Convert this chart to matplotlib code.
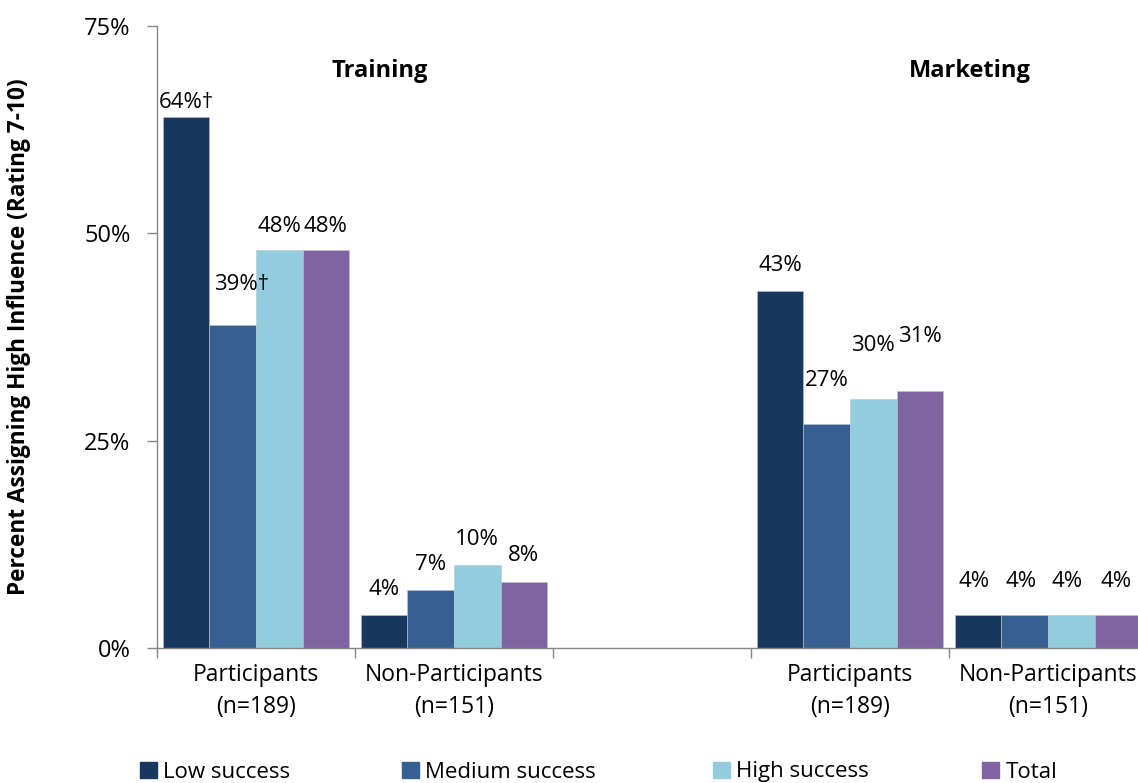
import matplotlib
matplotlib.use("Agg")
import matplotlib.pyplot as plt
from matplotlib.patches import Patch
import numpy as np

plt.rcParams['font.family'] = ['Open Sans', 'DejaVu Sans']

# ---- data -------------------------------------------------------------
categories = ["Participants\n(n=189)", "Non-Participants\n(n=151)", "",
              "Participants\n(n=189)", "Non-Participants\n(n=151)"]
series = ["Low success", "Medium success", "High success", "Total"]
low_success = [64, 4, np.nan, 43, 4]
medium_success = [39, 7, np.nan, 27, 4]
high_success = [48, 10, np.nan, 30, 4]
total = [48, 8, np.nan, 31, 4]
label_marks = [["†", "", "", "", ""],
               ["†", "", "", "", ""],
               ["", "", "", "", ""],
               ["", "", "", "", ""]]
section_titles = ["Training", "Marketing"]
y_ticks = [0, 25, 50, 75]

# ---- styling ----------------------------------------------------------
colors = ["#17375E", "#376092", "#93CDDD", "#8064A2"]
# vertical gap (px) between bar top and label centre, per series / category
label_lift = [[15, 25, 0, 26, 33],
              [40, 25, 0, 44, 33],
              [23, 26, 0, 54, 33],
              [23, 26, 0, 54, 33]]
label_shift = [[0, 0, 0, 0, -4],
               [9, 0, 0, 0, -4],
               [0, 0, 0, 0, -4],
               [0, 0, 0, 0, -2]]

W, H, DPI = 1138, 783, 100
fig = plt.figure(figsize=(W / DPI, H / DPI), dpi=DPI)
ax_left, ax_right, ax_bottom, ax_top = 157, 1147, 648, 26
ax = fig.add_axes([ax_left / W, 1 - ax_bottom / H,
                   (ax_right - ax_left) / W, (ax_bottom - ax_top) / H])

values = [low_success, medium_success, high_success, total]
x = np.arange(len(categories))
bar_w = 0.235
offsets = (np.arange(4) - 1.5) * bar_w
px_per_unit = (ax_bottom - ax_top) / 75.0

for si, (name, vals) in enumerate(zip(series, values)):
    ax.bar(x + offsets[si], vals, width=bar_w, color=colors[si],
           edgecolor="#B8C4D4", linewidth=0.4, label=name, zorder=2)
    for ci, v in enumerate(vals):
        if np.isnan(v):
            continue
        lift_units = label_lift[si][ci] / px_per_unit
        shift_units = label_shift[si][ci] / 198.0
        ax.text(x[ci] + offsets[si] + shift_units, v + lift_units,
                f"{v:g}%{label_marks[si][ci]}", ha="center", va="center",
                fontsize=16, color="#000000", clip_on=False)

ax.set_xlim(-0.5, len(categories) - 0.5)
ax.set_ylim(0, 75)
ax.set_yticks(y_ticks)
ax.set_yticklabels([f"{t}%" for t in y_ticks], fontsize=17)
ax.set_xticks(x)
ax.set_xticklabels(categories, fontsize=16.5, linespacing=1.45)
ax.set_xticks(np.arange(len(categories) + 1) - 0.5, minor=True)
ax.tick_params(axis="x", which="major", length=0, pad=11)
ax.tick_params(axis="x", which="minor", length=7, color="#868686", width=1)
ax.tick_params(axis="y", length=7, color="#868686", width=1, pad=12)

for side in ["top", "right"]:
    ax.spines[side].set_visible(False)
for side in ["left", "bottom"]:
    ax.spines[side].set_color("#868686")
    ax.spines[side].set_linewidth(1)

ax.set_ylabel("Percent Assigning High Influence (Rating 7-10)",
              fontsize=16.3, fontweight="bold")
ax.yaxis.set_label_coords(-(ax_left - 31) / (ax_right - ax_left), 0.5)

# section headings over the two groups
for title, xc in zip(section_titles, [380, 970]):
    ax.text((xc - ax_left) / 198.0 - 0.5, 75 - (71 - ax_top) / px_per_unit,
            title, ha="center", va="center", fontsize=17, fontweight="bold")

# legend entries laid out along the bottom
legend_x = [140, 402, 713, 982]
for name, col, lx in zip(series, colors, legend_x):
    fig.legend(handles=[Patch(facecolor=col, edgecolor=col)], labels=[name],
               loc="center left", bbox_to_anchor=(lx / W, 1 - 772 / H),
               frameon=False, fontsize=16, handlelength=0.75, handleheight=0.75,
               handletextpad=0.3, borderpad=0, borderaxespad=0)

fig.savefig("out.png", dpi=DPI)
